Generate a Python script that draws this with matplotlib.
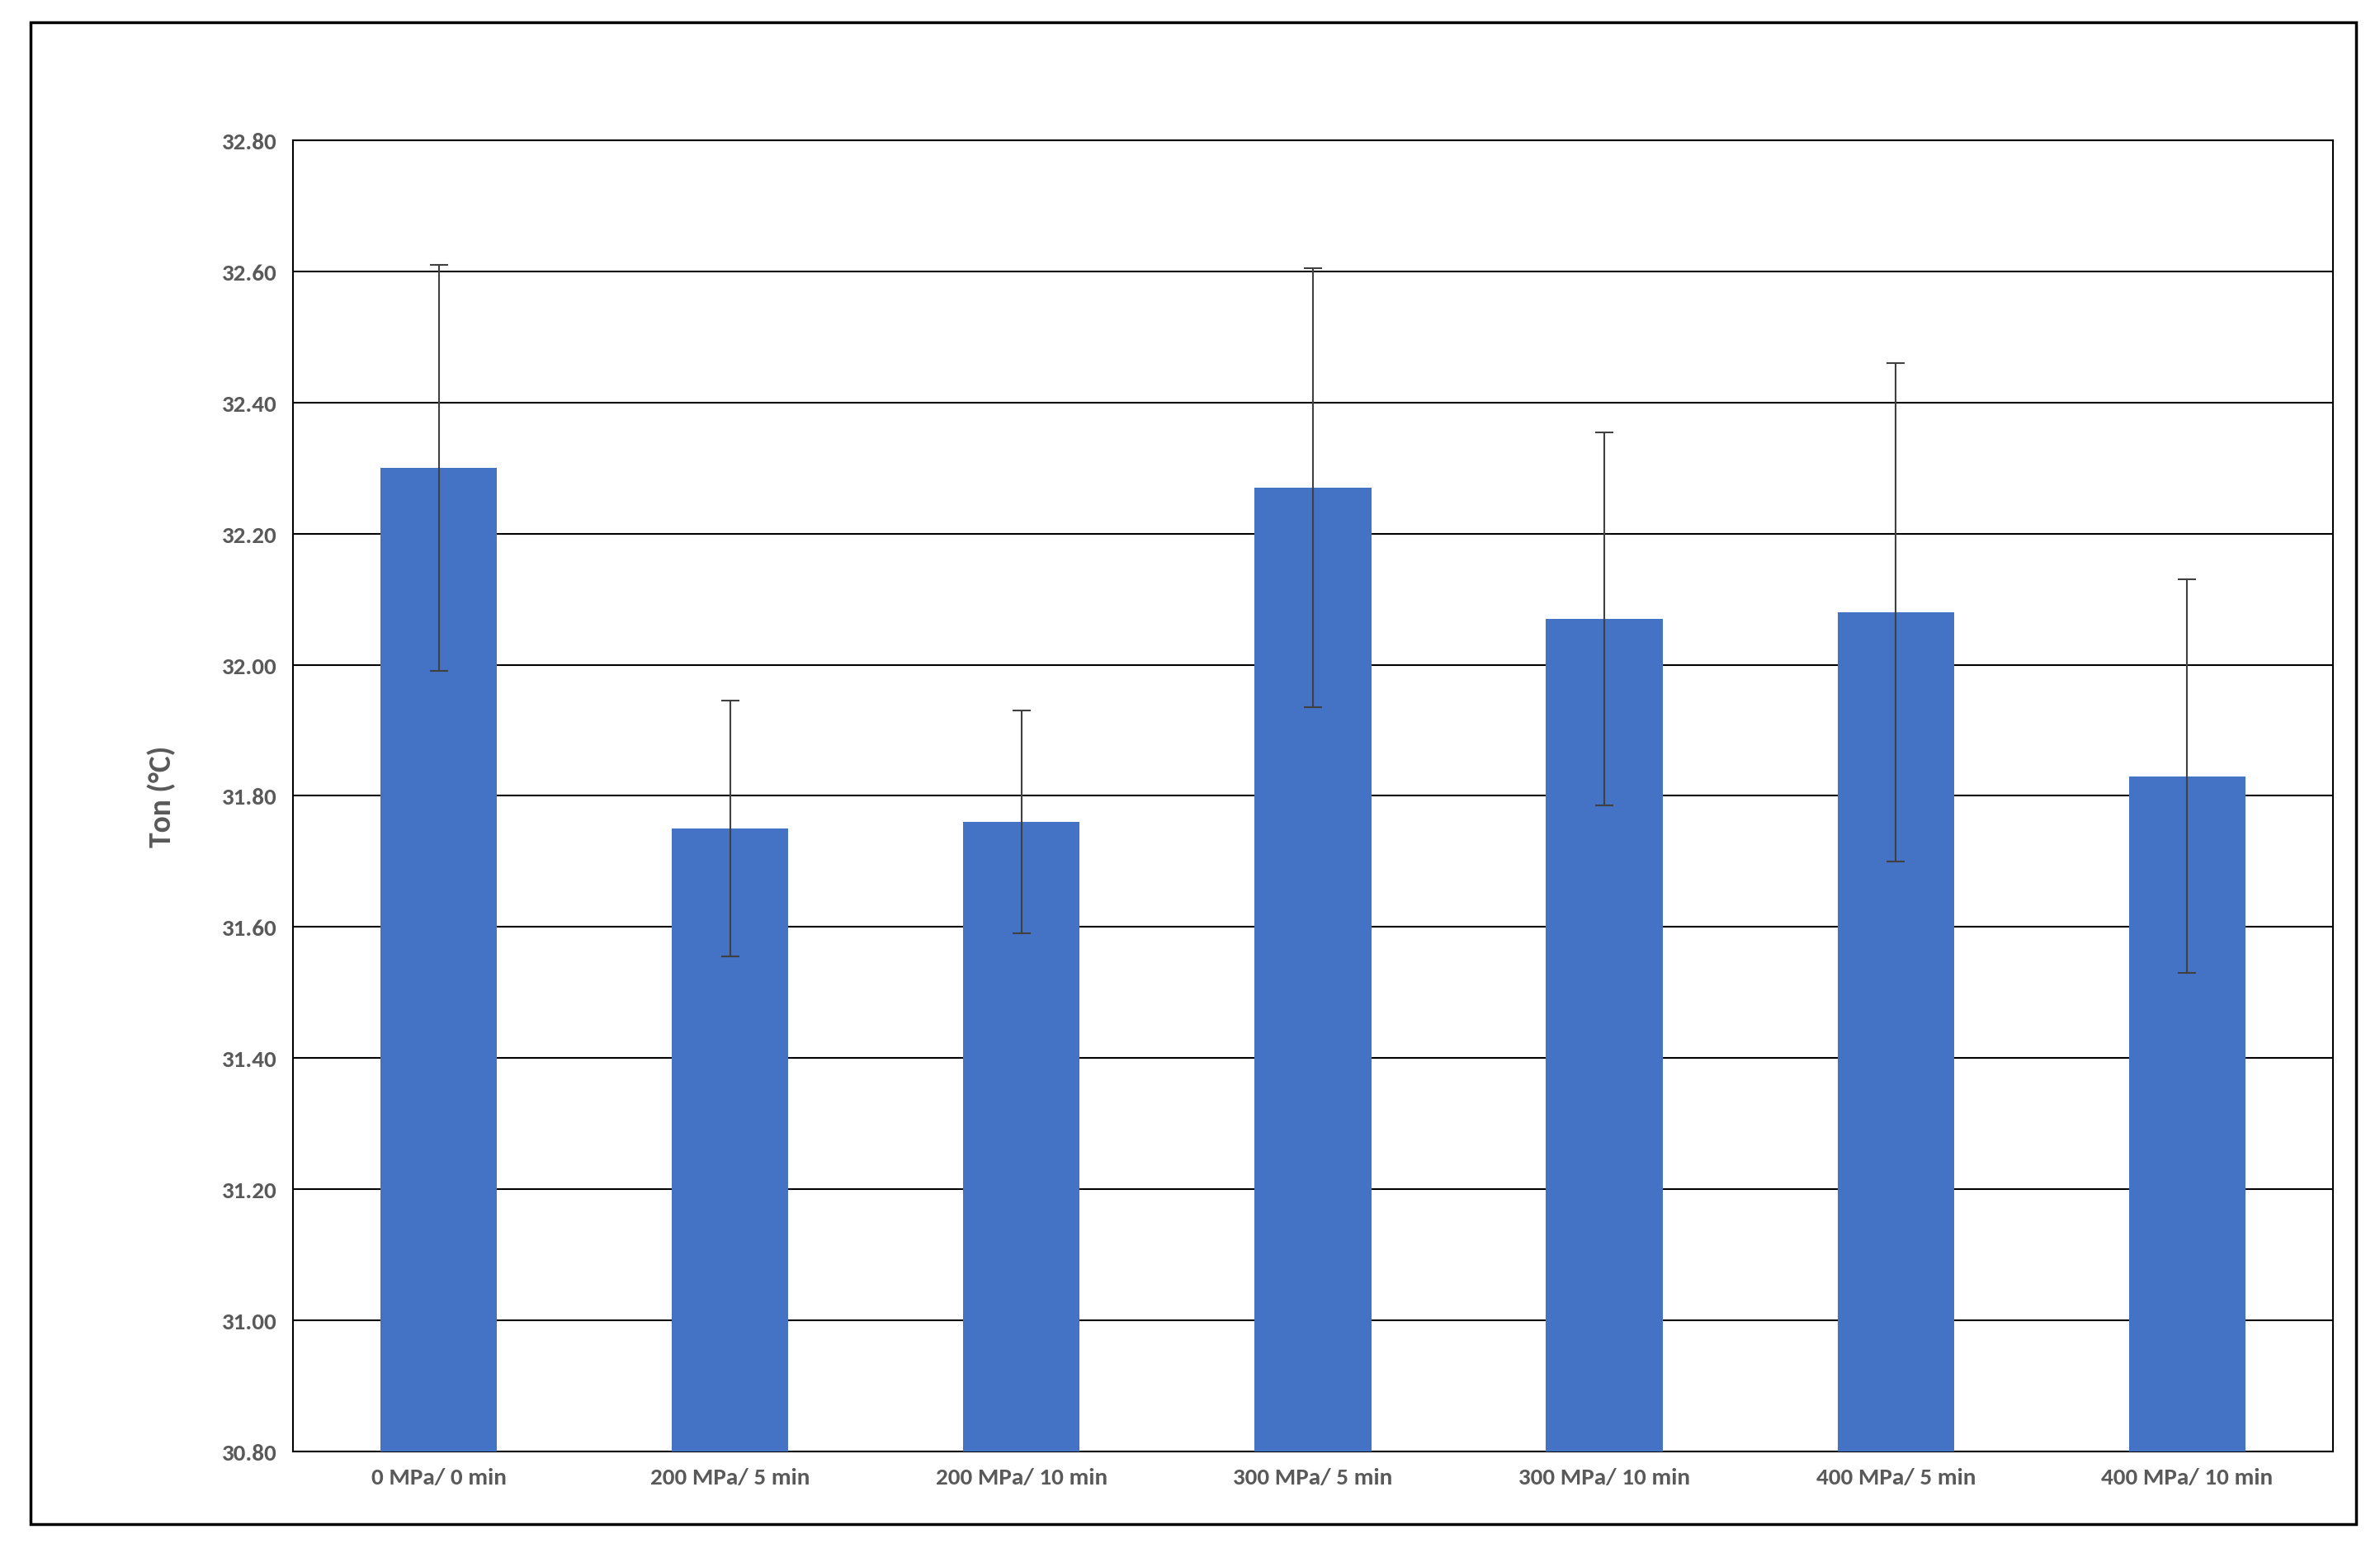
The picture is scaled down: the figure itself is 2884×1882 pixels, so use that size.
import matplotlib.pyplot as plt
from matplotlib.patches import Rectangle

categories = ['0 MPa/ 0 min', '200 MPa/ 5 min', '200 MPa/ 10 min', '300 MPa/ 5 min',
              '300 MPa/ 10 min', '400 MPa/ 5 min', '400 MPa/ 10 min']
ton = [32.30, 31.75, 31.76, 32.27, 32.07, 32.08, 31.83]
err = [0.31, 0.195, 0.17, 0.335, 0.285, 0.38, 0.30]

plt.rcParams['font.family'] = ['Calibri', 'Carlito', 'Open Sans', 'DejaVu Sans']
fig = plt.figure(figsize=(28.84, 18.83), dpi=100)
ax = fig.add_axes([193/1568, 1-957/1024, (1537-193)/1568, (957-93)/1024])

x = range(len(categories))
ax.bar(x, ton, width=0.4, color='#4472C4', zorder=3)
ax.errorbar(x, ton, yerr=err, fmt='none', ecolor='#404040', elinewidth=1.5,
            capsize=8, capthick=1.5, zorder=4)

ax.set_ylim(30.80, 32.80)
ax.set_xlim(-0.5, len(categories) - 0.5)
ax.set_yticks([30.80 + 0.2 * i for i in range(11)])
ax.set_yticklabels(['%.2f' % (30.80 + 0.2 * i) for i in range(11)])
ax.set_xticks(list(x))
ax.set_xticklabels(categories)
ax.yaxis.grid(True, color='black', linewidth=1.5, zorder=0)
ax.tick_params(length=0, labelsize=21, labelcolor='#595959', pad=14)
for lab in ax.get_xticklabels() + ax.get_yticklabels():
    lab.set_fontweight('bold')
for s in ax.spines.values():
    s.set_linewidth(1.5)
ax.set_ylabel('Ton (°C)', fontsize=27, fontweight='bold', color='#595959', labelpad=40)

fig.patches.append(Rectangle((20/1568, 1-1005/1024), (1552-20)/1568, (1005-15)/1024,
                             transform=fig.transFigure, fill=False, edgecolor='black',
                             linewidth=2.5))
fig.savefig('out.png', dpi=100)
